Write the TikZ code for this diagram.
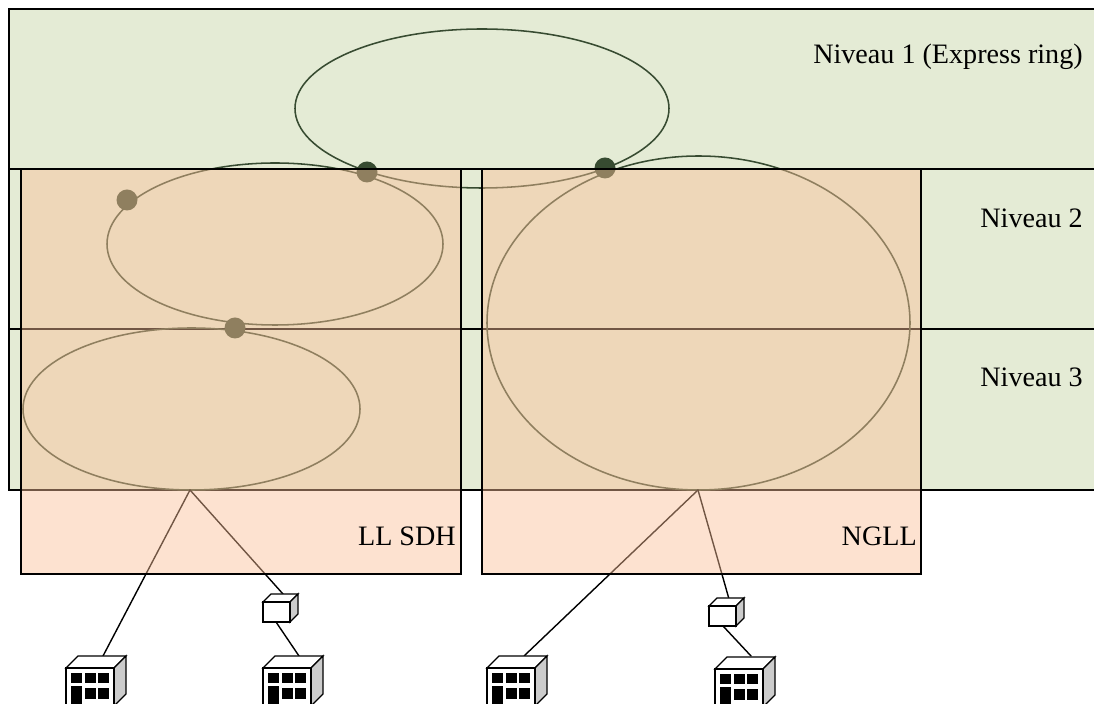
\documentclass[tikz,border=0pt]{standalone}
\usepackage[dvipsnames,svgnames]{xcolor}
\usepackage{fontspec}
\setmainfont{Liberation Serif}
\usepackage{tkz-euclide}
\definecolor{levelgreen}{HTML}{E4EBD5}
\definecolor{ringgreen}{HTML}{374B31}
\definecolor{accesspeach}{HTML}{FBBF97}
\tikzset{
 level/.style={draw=black,fill=levelgreen,line width=1.1pt},
 access/.style={draw=black,fill=accesspeach,fill opacity=.45,line width=1.1pt},
 ring/.style={draw=ringgreen,line width=1.1pt},
 popdot/.style={fill=ringgreen,draw=none},
 link/.style={draw=black,line width=1pt},
 tag/.style={font=\fontsize{20}{24}\selectfont,anchor=east,inner sep=0pt},
 building/.pic={
  \draw[line width=1pt,fill=white] (0,0)--(12,12)--(60,12)--(48,0)--cycle;
  \draw[line width=1pt,fill=black!20] (48,0)--(60,12)--(60,-26)--(48,-38)--cycle;
  \draw[line width=1pt,fill=white] (0,0) rectangle (48,-44);
  \foreach \wx in {5,18.5,32}
   \fill (\wx,-5) rectangle ++(11,-10);
  \foreach \wx in {18.5,32}
   \fill (\wx,-20) rectangle ++(11,-11);
  \fill (5,-18) rectangle (16,-44);
 },
 cube/.pic={
  \draw[line width=1pt,fill=white] (0,0)--(8,8)--(35,8)--(27,0)--cycle;
  \draw[line width=1pt,fill=black!20] (27,0)--(35,8)--(35,-12)--(27,-20)--cycle;
  \draw[line width=1pt,fill=white] (0,0) rectangle (27,-20);
 }
}
\begin{document}
\begin{tikzpicture}[x=.025cm,y=.025cm]
 \useasboundingbox (0,0) rectangle (1094,704);
 \clip (0,0) rectangle (1094,704);
 \tkzDefPoints{482/595.5/Re,275/460/Rl,191.5/295/Rn,698.5/381/Rd}
 \tkzDefPoints{127/504/Pa,367/532/Pb,605/536/Pc,235/376/Pd}
 \tkzDefPoints{190/214/Sa,698/214/Sb,103/48/Ba,283/110/Ca,276/82/Cb,299/48/Bb}
 \tkzDefPoints{524/48/Bc,729/105/Cc,723/78/Cd,751/48/Bd}
 % levels
 \draw[level] (9,535) rectangle (1110,695);
 \draw[level] (9,375) rectangle (1110,535);
 \draw[level] (9,214) rectangle (1110,375);
 % rings
 \draw[ring] (Re) ellipse [x radius=187,y radius=79.5];
 \draw[ring] (Rl) ellipse [x radius=168,y radius=81];
 \draw[ring] (Rn) ellipse [x radius=168.5,y radius=81];
 \draw[ring] (Rd) ellipse [x radius=211.5,y radius=167];
 \foreach \dotname in {Pa,Pb,Pc,Pd}
  \fill[popdot] (\dotname) circle (10.5);
 % links
 \tkzDrawSegments[link](Sa,Ba Sa,Ca Cb,Bb Sb,Bc Sb,Cc Cd,Bd)
 % access
 \draw[access] (21,130) rectangle (461,535);
 \draw[access] (482,130) rectangle (921,535);
 % sites
 \pic at (66,36) {building};
 \pic at (263,36) {building};
 \pic at (487,36) {building};
 \pic at (715,35) {building};
 \pic at (263,102) {cube};
 \pic at (709,98) {cube};
 % texts
 \node[tag] (lvla) at (1083,647) {Niveau 1 (Express ring)};
 \node[tag] (lvlb) at (1083,486) {Niveau 2};
 \node[tag] (lvlc) at (1083,327) {Niveau 3};
 \node[tag] (llsdh) at (456,168) {LL SDH};
 \node[tag] (ngll) at (917,168) {NGLL};
\end{tikzpicture}
\end{document}
